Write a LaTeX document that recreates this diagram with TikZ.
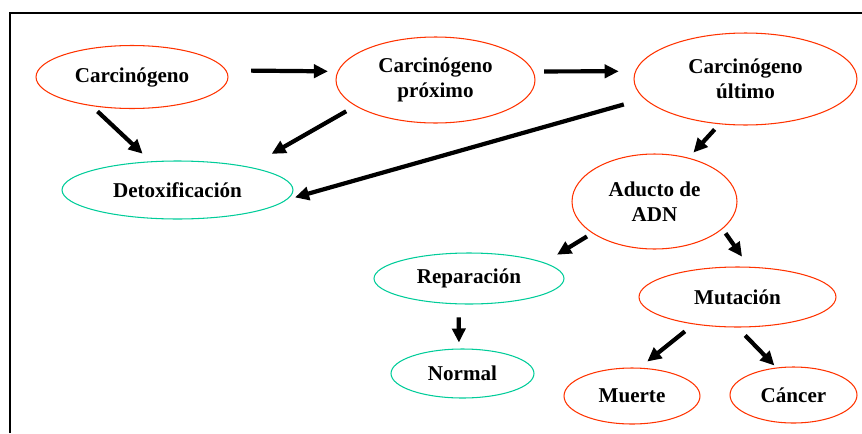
\documentclass[tikz,border=0pt]{standalone}
\usepackage{fontspec}
\setmainfont{Liberation Serif}
\usetikzlibrary{arrows.meta, shapes.geometric}
\definecolor{rojo}{RGB}{255,51,0}
\definecolor{verde}{RGB}{0,204,153}

\begin{document}
\begin{tikzpicture}[x=0.02cm, y=-0.02cm,
    nodo/.style={ellipse, inner sep=0pt, align=center, line width=0.6pt,
        font=\bfseries\fontsize{12}{14}\selectfont},
    etapa/.style={nodo, draw=rojo},
    defensa/.style={nodo, draw=verde},
    flecha/.style={-{Triangle[length=8pt, width=7.5pt]}, line width=2.4pt}]
    \useasboundingbox (0,0) rectangle (862,433);
    \draw[line width=1.3pt] (10,433) -- (10,13) -- (862,13);

    \node[etapa, minimum width=3.84cm, minimum height=1.26cm] (carc) at (132,77) {Carcinógeno};
    \node[etapa, minimum width=3.98cm, minimum height=1.72cm] (prox) at (435.5,80) {Carcinógeno\\próximo};
    \node[etapa, minimum width=4.46cm, minimum height=1.84cm] (ult) at (745.5,79) {Carcinógeno\\último};
    \node[defensa, minimum width=4.62cm, minimum height=1.16cm] (detox) at (177.5,190) {Detoxificación};
    \node[etapa, minimum width=3.30cm, minimum height=1.90cm] (aducto) at (654.5,201.5) {Aducto de\\ADN};
    \node[defensa, minimum width=3.80cm, minimum height=1.02cm] (rep) at (469,278.5) {Reparación};
    \node[defensa, minimum width=2.86cm, minimum height=0.98cm] (normal) at (462.5,373.5) {Normal};
    \node[etapa, minimum width=3.94cm, minimum height=1.20cm] (mut) at (737.5,297) {Mutación};
    \node[etapa, minimum width=2.72cm, minimum height=1.12cm] (muerte) at (632,396) {Muerte};
    \node[etapa, minimum width=2.54cm, minimum height=1.12cm] (cancer) at (793.5,395) {Cáncer};

    \draw
    (carc.4) edge[flecha, shorten <=14pt, shorten >=5.4pt] (prox.175)
    (prox.5) edge[flecha, shorten <=6pt, shorten >=9.3pt] (ult.176)
    (carc.216) edge[flecha, shorten <=4.4pt, shorten >=6.3pt] (detox.133)
    (prox.198) edge[flecha, shorten <=6pt, shorten >=14.8pt] (detox.18)
    (ult.191) edge[flecha, shorten <=12pt, shorten >=4.6pt] (detox.-5)
    (ult.240) edge[flecha, shorten <=4pt, shorten >=4pt] (aducto.52)
    (aducto.207) edge[flecha, shorten <=3.5pt, shorten >=8.5pt] (rep.12)
    (aducto.-22) edge[flecha, shorten <=3pt, shorten >=7pt] (mut.69)
    (rep.248) edge[flecha, shorten <=7.4pt, shorten >=3.4pt] (normal.98)
    (mut.212) edge[flecha, shorten <=6.4pt, shorten >=5.6pt] (muerte.75)
    (mut.270) edge[flecha, shorten <=6.3pt, shorten >=1.6pt] (cancer.122);
\end{tikzpicture}
\end{document}
